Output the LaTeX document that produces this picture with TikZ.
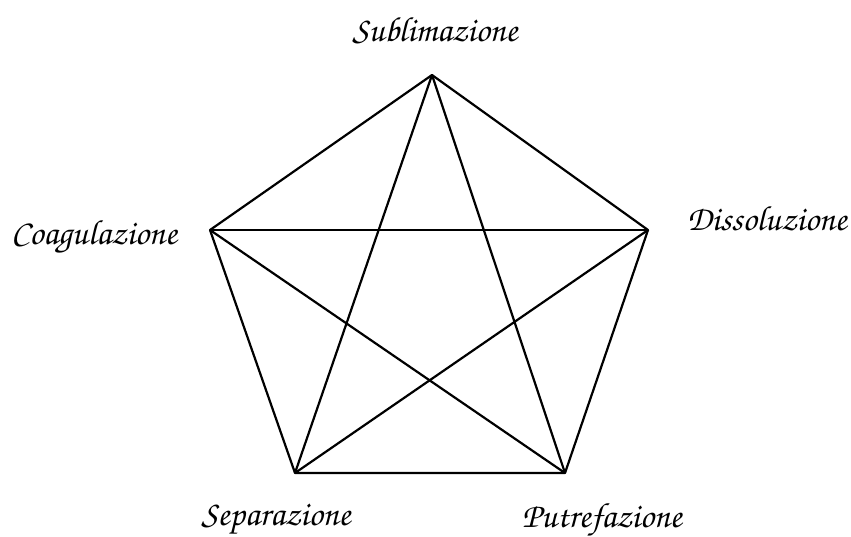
\documentclass[tikz,border=0pt]{standalone}
\usepackage[T1]{fontenc}
\tikzset{
  vtx/.style={inner sep=0pt,minimum size=0pt},
  lbl/.style={font=\fontencoding{T1}\fontfamily{pzc}\fontseries{mb}\fontshape{it}\fontsize{35}{40}\selectfont,inner sep=0pt},
  edge/.style={line width=2.2pt,line join=round}
}
\begin{document}
\begin{tikzpicture}[x=1pt,y=-1pt]
\useasboundingbox (0,0) rectangle (851,536);
\coordinate (T) at (432,75);
\coordinate (R) at (648,230);
\coordinate (BR) at (565,473);
\coordinate (BL) at (295,473);
\coordinate (L) at (210,230);
\draw[edge] (T) -- (R) -- (BR) -- (BL) -- (L) -- cycle;
\draw[edge] (T) -- (BL);
\draw[edge] (T) -- (BR);
\draw[edge] (L) -- (R);
\draw[edge] (L) -- (BR);
\draw[edge] (R) -- (BL);
\node[lbl] (sub) at (435,30) {Sublimazione};
\node[lbl] (dis) at (767,218) {Dissoluzione};
\node[lbl] (put) at (602,520) {Putrefazione};
\node[lbl] (sep) at (276,520) {Separazione};
\node[lbl] (coa) at (94,237) {Coagulazione};
\end{tikzpicture}
\end{document}
